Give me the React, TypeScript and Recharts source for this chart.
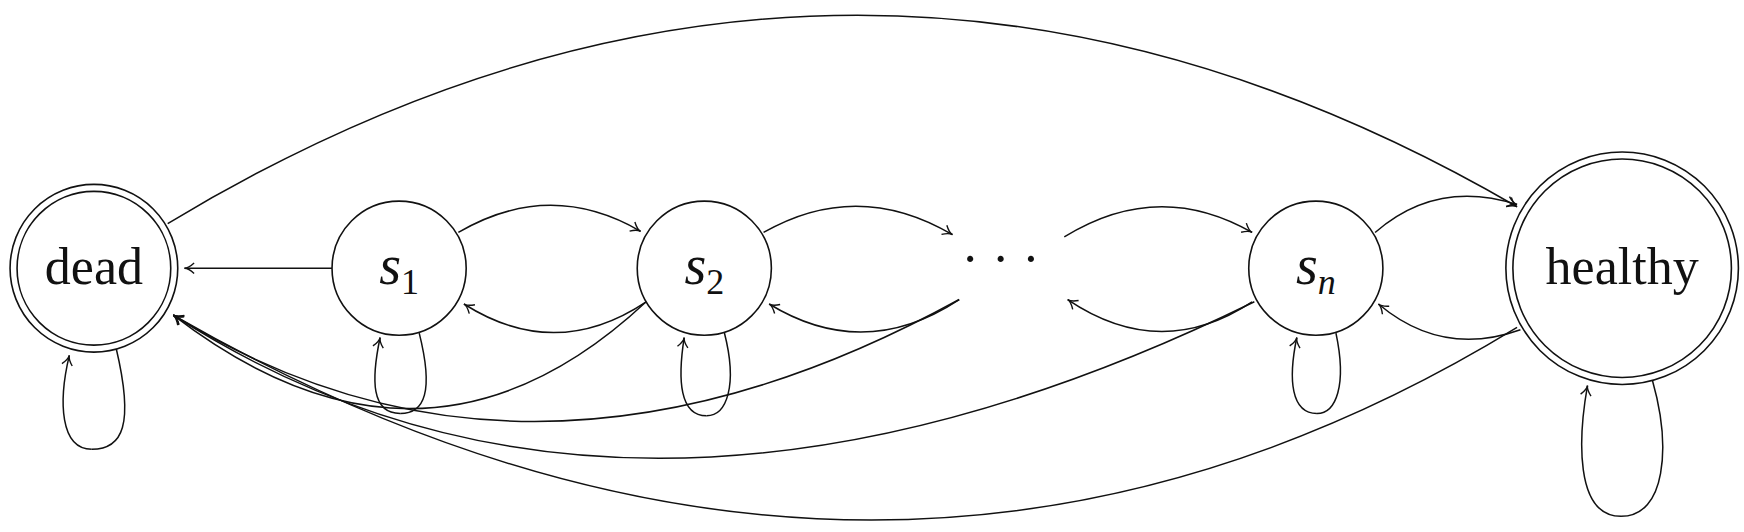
import * as React from "react"
import { Scatter, ScatterChart, XAxis, YAxis } from "recharts"

const W = 1744
const H = 532
// data units (chart drawn on a 1560 x 476 grid, scaled to the window)
const XMAX = 1560
const YMAX = 476
const sx = (v: number) => (v * W) / XMAX
const sy = (v: number) => (v * H) / YMAX

type NodeRow = { x: number; y: number; label: string; sub?: string; r: number; double: boolean }

const nodes: NodeRow[] = [
  { x: 84, y: 240, label: "dead", r: 75, double: true },
  { x: 357, y: 240, label: "s", sub: "1", r: 60, double: false },
  { x: 630, y: 240, label: "s", sub: "2", r: 60, double: false },
  { x: 895, y: 240, label: "· · ·", r: 0, double: false },
  { x: 1177, y: 240, label: "s", sub: "n", r: 60, double: false },
  { x: 1451, y: 240, label: "healthy", r: 104, double: true },
]

type EdgeRow = { x: number; y: number; c1x: number; c1y: number; c2x: number; c2y: number; ex: number; ey: number }

// quadratic edge: start, control, end
const q = (x: number, y: number, cx: number, cy: number, ex: number, ey: number): EdgeRow => ({
  x, y,
  c1x: x + (2 / 3) * (cx - x), c1y: y + (2 / 3) * (cy - y),
  c2x: ex + (2 / 3) * (cx - ex), c2y: ey + (2 / 3) * (cy - ey),
  ex, ey,
})
const c = (x: number, y: number, c1x: number, c1y: number, c2x: number, c2y: number, ex: number, ey: number): EdgeRow =>
  ({ x, y, c1x, c1y, c2x, c2y, ex, ey })

const edges: EdgeRow[] = [
  q(150, 200, 755, -165, 1357, 185), // dead -> healthy
  q(297, 240, 231, 240, 165, 240), // s1 -> dead
  q(410, 208, 492, 160, 573, 207),
  q(578, 270, 497, 324, 415, 272),
  q(683, 208, 767, 160, 852, 210),
  q(858, 268, 773, 324, 688, 272),
  q(952, 212, 1036, 160, 1120, 208),
  q(1120, 270, 1038, 324, 955, 268),
  q(1230, 208, 1285, 160, 1357, 183),
  q(1360, 295, 1290, 320, 1233, 272),
  q(578, 270, 380, 455, 155, 282), // s2 -> dead
  q(858, 268, 474, 479, 155, 282), // dots -> dead
  q(1122, 270, 562, 544, 155, 282), // sn -> dead
  q(1357, 293, 784, 643, 155, 282), // healthy -> dead
]
// self loops: outgoing half (no head) and returning half (with head)
const loopOut: EdgeRow[] = [
  c(104, 312, 120, 380, 110, 402, 82, 402),
  c(375, 298, 388, 350, 380, 370, 358, 370),
  c(648, 298, 660, 345, 650, 372, 632, 372),
  c(1195, 298, 1205, 345, 1195, 370, 1178, 370),
  c(1478, 340, 1495, 400, 1490, 462, 1450, 462),
]
const loopBack: EdgeRow[] = [
  c(82, 402, 54, 402, 52, 360, 62, 318),
  c(358, 370, 332, 370, 332, 340, 340, 302),
  c(632, 372, 608, 372, 606, 340, 612, 302),
  c(1178, 370, 1155, 370, 1152, 340, 1160, 302),
  c(1450, 462, 1408, 462, 1412, 390, 1420, 345),
]

const ink = "#111"

function EdgeShape(props: any) {
  const p: EdgeRow = props.payload
  const arrow = props.arrow !== false
  const [x0, y0, a1, b1, a2, b2, x3, y3] = [sx(p.x), sy(p.y), sx(p.c1x), sy(p.c1y), sx(p.c2x), sy(p.c2y), sx(p.ex), sy(p.ey)]
  let head = null
  if (arrow) {
    const ang = Math.atan2(y3 - b2, x3 - a2)
    const L = 11
    const s = 0.5
    const mx = x3 - 4 * Math.cos(ang)
    const my = y3 - 4 * Math.sin(ang)
    const pA = [x3 - L * Math.cos(ang - s), y3 - L * Math.sin(ang - s)]
    const pB = [x3 - L * Math.cos(ang + s), y3 - L * Math.sin(ang + s)]
    head = (
      <path
        d={`M${pA[0]},${pA[1]} Q${mx},${my} ${x3},${y3} Q${mx},${my} ${pB[0]},${pB[1]}`}
        fill="none" stroke={ink} strokeWidth={1.4}
      />
    )
  }
  return (
    <g>
      <path d={`M${x0},${y0} C${a1},${b1} ${a2},${b2} ${x3},${y3}`} fill="none" stroke={ink} strokeWidth={1.5} />
      {head}
    </g>
  )
}

function NodeShape(props: any) {
  const { cx, cy } = props
  const n: NodeRow = props.payload
  const r = sx(n.r)
  return (
    <g>
      {n.r > 0 && <circle cx={cx} cy={cy} r={r} fill="#fff" stroke={ink} strokeWidth={1.6} />}
      {n.double && <circle cx={cx} cy={cy} r={r - 7} fill="none" stroke={ink} strokeWidth={1.6} />}
      <text x={cx} y={cy} dy={n.label.startsWith("·") ? 8 : 16} textAnchor="middle" fontFamily="'Liberation Serif', serif" fontSize={52} fill={ink}>
        {n.sub ? (
          <>
            <tspan fontStyle="italic" fontSize={56}>{n.label}</tspan>
            <tspan fontSize={36} fontStyle={n.sub === "n" ? "italic" : "normal"} dy={10}>{n.sub}</tspan>
          </>
        ) : (
          n.label
        )}
      </text>
    </g>
  )
}

export default function App() {
  React.useEffect(() => {
    document.body.style.margin = "0"
  }, [])
  return (
    <div style={{ width: W, height: H, background: "#fff" }}>
      <ScatterChart width={W} height={H} margin={{ top: 0, right: 0, bottom: 0, left: 0 }}>
        <XAxis type="number" dataKey="x" domain={[0, XMAX]} hide allowDataOverflow />
        <YAxis type="number" dataKey="y" domain={[0, YMAX]} reversed hide allowDataOverflow />
        <Scatter data={loopOut} shape={(p: any) => <EdgeShape {...p} arrow={false} />} isAnimationActive={false} />
        <Scatter data={loopBack} shape={(p: any) => <EdgeShape {...p} />} isAnimationActive={false} />
        <Scatter data={edges} shape={(p: any) => <EdgeShape {...p} />} isAnimationActive={false} />
        <Scatter data={nodes} shape={(p: any) => <NodeShape {...p} />} isAnimationActive={false} />
      </ScatterChart>
    </div>
  )
}
